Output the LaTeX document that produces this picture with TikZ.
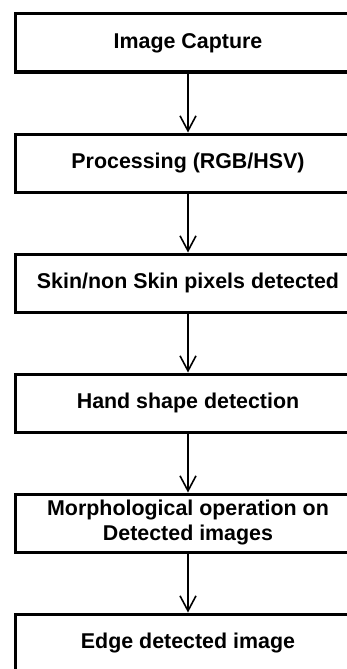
\documentclass[tikz,border=0pt]{standalone}
\usepackage{fontspec}
\setmainfont{Liberation Sans}
\usetikzlibrary{positioning, arrows.meta}

\begin{document}
\begin{tikzpicture}[
    x=1pt, y=1pt,
    >={Straight Barb[length=15pt, width=16pt, line width=1.6pt]},
    node distance=59pt,
    stage/.style={
        rectangle,
        draw,
        line width=3pt,
        minimum width=346pt,
        minimum height=58pt,
        inner sep=0pt,
        align=center,
        font=\fontsize{21.4}{25}\selectfont\bfseries
    },
    arrow/.style={->, line width=2.4pt}
]
\useasboundingbox (0,0) rectangle (347,-669);
\clip (0,0) rectangle (347,-669);

% Pipeline stages
\node[stage] (capture) at (188,-43) {Image Capture};
\node[stage, below=of capture] (process) {Processing (RGB/HSV)};
\node[stage, below=of process] (skin) {Skin/non Skin pixels detected};
\node[stage, below=of skin] (hand) {Hand shape detection};
\node[stage, below=of hand] (morph) {Morphological operation on\\Detected images};
\node[stage, below=of morph] (edge) {Edge detected image};

% Arrows - simple vertical flow
\draw[arrow] (capture) -- (process);
\draw[arrow] (process) -- (skin);
\draw[arrow] (skin) -- (hand);
\draw[arrow] (hand) -- (morph);
\draw[arrow] (morph) -- (edge);

\end{tikzpicture}
\end{document}
